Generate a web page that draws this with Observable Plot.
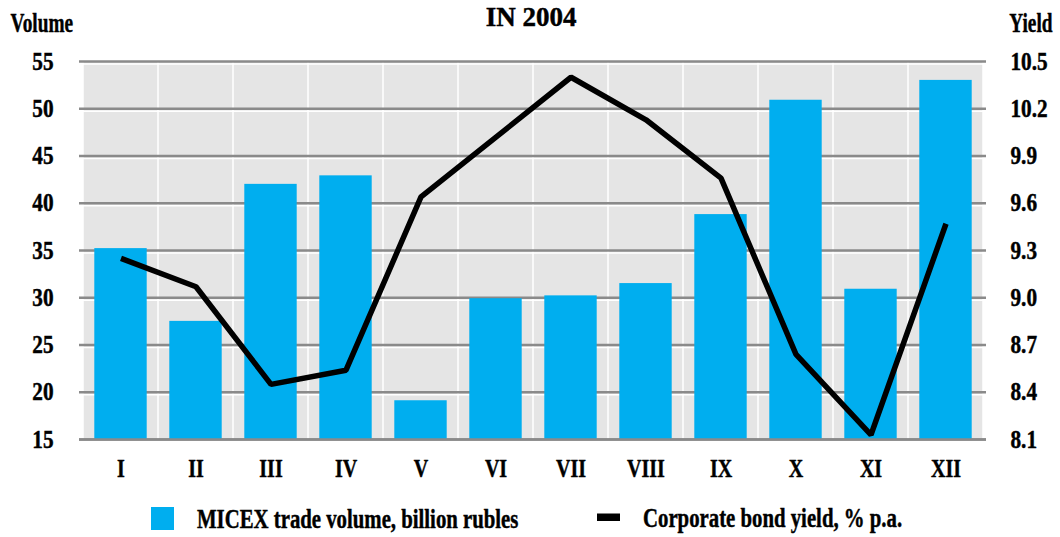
<!DOCTYPE html>
<html>
<head>
<meta charset="utf-8">
<script src="https://cdn.jsdelivr.net/npm/d3@7"></script>
<script src="https://cdn.jsdelivr.net/npm/@observablehq/plot@0.6"></script>
<style>
  html, body { margin: 0; padding: 0; background: #fff; }
  #chart { width: 1060px; }
  svg text { font-family: "Liberation Serif", serif; font-weight: bold; stroke: #000; stroke-width: 0.45px; fill: #000; }
</style>
</head>
<body>
<div id="chart"></div>
<script>
const title = "IN 2004";
const leftLabel = "Volume";
const rightLabel = "Yield";
const months = ["I", "II", "III", "IV", "V", "VI", "VII", "VIII", "IX", "X", "XI", "XII"];
const volume = [35.2, 27.5, 42.0, 42.9, 19.1, 29.9, 30.2, 31.5, 38.8, 50.9, 30.9, 53.0];
const yieldPct = [9.25, 9.07, 8.45, 8.54, 9.64, 10.02, 10.40, 10.13, 9.76, 8.64, 8.13, 9.47];
const volumeTicks = [15, 20, 25, 30, 35, 40, 45, 50, 55];
const yieldTicks = [8.1, 8.4, 8.7, 9.0, 9.3, 9.6, 9.9, 10.2, 10.5];
const seriesNames = ["MICEX trade volume, billion rubles", "Corporate bond yield, % p.a."];

const volDomain = [volumeTicks[0], volumeTicks[volumeTicks.length - 1]];
const yieldDomain = [yieldTicks[0], yieldTicks[yieldTicks.length - 1]];
const toVol = d3.scaleLinear(yieldDomain, volDomain);
const table = months.map((m, i) => ({month: m, volume: volume[i], yld: yieldPct[i]}));

const blue = "#00AEEF";
const bg = "#e5e5e5";
const gridGray = "#8a8a8a";

const plot = Plot.plot({
  width: 1060,
  height: 490,
  marginTop: 61,
  marginBottom: 51,
  marginLeft: 79,
  marginRight: 74,
  style: {fontFamily: "Liberation Serif", fontWeight: "bold", fontSize: "24px", background: "white", color: "black"},
  x: {domain: months, padding: 0},
  y: {domain: volDomain},
  marks: [
    Plot.barY(months, {x: d => d, y1: volDomain[0], y2: volDomain[1], fill: bg, insetLeft: 0.75, insetRight: 0.75}),
    Plot.ruleY(volumeTicks, {stroke: "#fff", strokeWidth: 1.5, dy: 2.5}),
    Plot.ruleY(volumeTicks, {stroke: gridGray, strokeWidth: 2.6}),
    Plot.barY(table, {x: "month", y1: volDomain[0], y2: "volume", fill: blue, insetLeft: 11.3, insetRight: 11.3}),
    Plot.ruleY([volDomain[0]], {stroke: gridGray, strokeWidth: 2.6}),
    Plot.line(table, {x: "month", y: d => toVol(d.yld), stroke: "black", strokeWidth: 5.5, strokeLinejoin: "miter", strokeLinecap: "butt"}),
    Plot.axisY({anchor: "left", ticks: volumeTicks, tickSize: 0, tickPadding: 26, fontSize: 25, label: null}),
    Plot.axisY({anchor: "right", ticks: yieldTicks.map(toVol), tickFormat: v => d3.format(".1f")(toVol.invert(v)), tickSize: 0, tickPadding: 24, fontSize: 25, label: null}),
    Plot.axisX({tickSize: 0, tickPadding: 19, fontSize: 26, label: null}),
    Plot.text([title], {frameAnchor: "top", text: d => d, dx: -2, dy: -36, lineAnchor: "bottom", fontSize: 27}),
    Plot.text([leftLabel], {frameAnchor: "top-left", text: d => d, textAnchor: "start", dx: -69, dy: -30, lineAnchor: "bottom", fontSize: 28}),
    Plot.text([rightLabel], {frameAnchor: "top-right", text: d => d, textAnchor: "end", dx: 66, dy: -30, lineAnchor: "bottom", fontSize: 28})
  ]
});

const chart = document.getElementById("chart");
chart.appendChild(plot);

// legend
const legend = d3.create("svg").attr("width", 1060).attr("height", 47).style("display", "block");
legend.append("rect").attr("x", 151).attr("y", 17).attr("width", 23).attr("height", 23).attr("fill", blue);
legend.append("text").attr("x", 197).attr("y", 38).attr("font-size", 27).text(seriesNames[0]);
legend.append("rect").attr("x", 597).attr("y", 23.5).attr("width", 23).attr("height", 7.5).attr("fill", "black");
legend.append("text").attr("x", 643).attr("y", 37).attr("font-size", 27).text(seriesNames[1]);
chart.appendChild(legend.node());

// condensed look: scale glyphs horizontally about each text's anchor point
document.querySelectorAll("#chart svg text").forEach(t => {
  const s = t.textContent.trim();
  if (!s) return;
  let f = 0.77;
  if (/^[\d.]+$/.test(s)) f = 0.85;
  else if (s === title) f = 1.0;
  else if (s === leftLabel || s === rightLabel) f = 0.69;
  if (f === 1) return;
  const x = parseFloat(t.getAttribute("x")) || 0;
  const y = parseFloat(t.getAttribute("y")) || 0;
  const prev = t.getAttribute("transform") || "";
  t.setAttribute("transform", `${prev} translate(${x},${y}) scale(${f},1) translate(${-x},${-y})`.trim());
});
</script>
</body>
</html>
